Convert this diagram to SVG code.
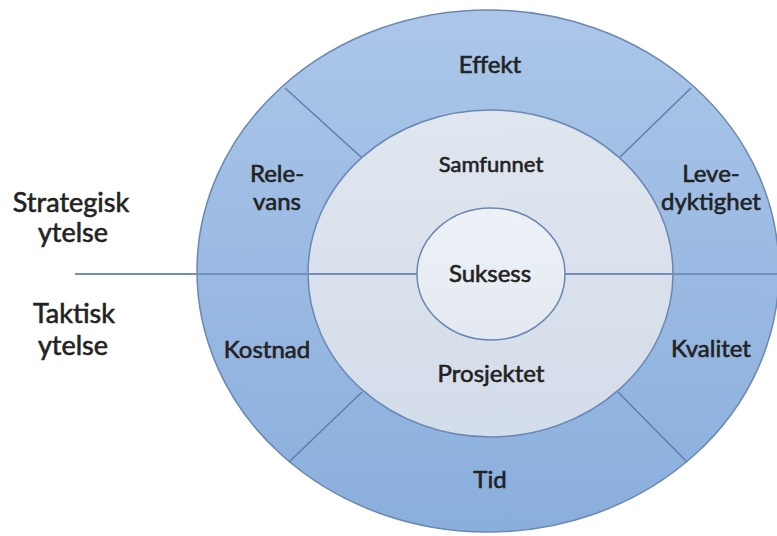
<svg xmlns="http://www.w3.org/2000/svg" width="777" height="536" viewBox="0 0 777 536">
  <defs>
    <linearGradient id="gOuter" x1="0" y1="0" x2="0" y2="1">
      <stop offset="0" stop-color="#abc6e9"/>
      <stop offset="1" stop-color="#8aaedd"/>
    </linearGradient>
    <linearGradient id="gMid" x1="0" y1="0" x2="0" y2="1">
      <stop offset="0" stop-color="#e0e6ef"/>
      <stop offset="1" stop-color="#d3dce9"/>
    </linearGradient>
    <linearGradient id="gIn" x1="0" y1="0" x2="0" y2="1">
      <stop offset="0" stop-color="#edf1f7"/>
      <stop offset="1" stop-color="#e4e9f1"/>
    </linearGradient>
  </defs>
  <style>
    .ring { stroke: #6a88b3; stroke-width: 1.5; }
    .div { stroke: #5f7ea9; stroke-width: 1.5; fill: none; }
    .axis { stroke: #7290ba; stroke-width: 2; fill: none; }
    text { font-family: Lato, "Liberation Sans", sans-serif; fill: #222; stroke: #222; stroke-width: 0.6; text-anchor: middle; }
    .lbl { font-size: 24px; }
    .sm { font-size: 22px; }
    .side { font-size: 27px; }
  </style>

  <g id="outer-ring">
    <ellipse cx="488" cy="271" rx="291" ry="261" fill="url(#gOuter)" class="ring"/>
  </g>
  <g id="middle-ring">
    <ellipse cx="490.5" cy="273.5" rx="182.5" ry="163.5" fill="url(#gMid)" class="ring"/>
  </g>

  <g id="connectors">
    <line class="axis" x1="75" y1="274" x2="777" y2="274"/>
    <line class="div" x1="285" y1="88" x2="361" y2="157"/>
    <line class="div" x1="691" y1="88" x2="620" y2="157"/>
    <line class="div" x1="289" y1="462" x2="362" y2="392"/>
    <line class="div" x1="687" y1="462" x2="618" y2="392"/>
  </g>

  <g id="suksess">
    <ellipse cx="491" cy="274" rx="74" ry="66" fill="url(#gIn)" class="ring"/>
    <text class="lbl" x="490" y="282">Suksess</text>
  </g>

  <g id="effekt"><text class="lbl" x="490" y="73">Effekt</text></g>
  <g id="samfunnet"><text class="sm" x="491" y="172">Samfunnet</text></g>
  <g id="relevans">
    <text class="lbl" x="277" y="182">Rele-</text>
    <text class="lbl" x="277" y="210">vans</text>
  </g>
  <g id="levedyktighet">
    <text class="lbl" x="711" y="182">Leve-</text>
    <text class="lbl" x="711" y="210">dyktighet</text>
  </g>
  <g id="kostnad"><text class="lbl" x="267" y="358">Kostnad</text></g>
  <g id="prosjektet"><text class="lbl" x="491" y="382">Prosjektet</text></g>
  <g id="kvalitet"><text class="lbl" x="711" y="357">Kvalitet</text></g>
  <g id="tid"><text class="lbl" x="490" y="488">Tid</text></g>

  <g id="strategisk">
    <text class="side" x="71" y="212">Strategisk</text>
    <text class="side" x="73" y="242">ytelse</text>
  </g>
  <g id="taktisk">
    <text class="side" x="74" y="323">Taktisk</text>
    <text class="side" x="73" y="355">ytelse</text>
  </g>
</svg>
